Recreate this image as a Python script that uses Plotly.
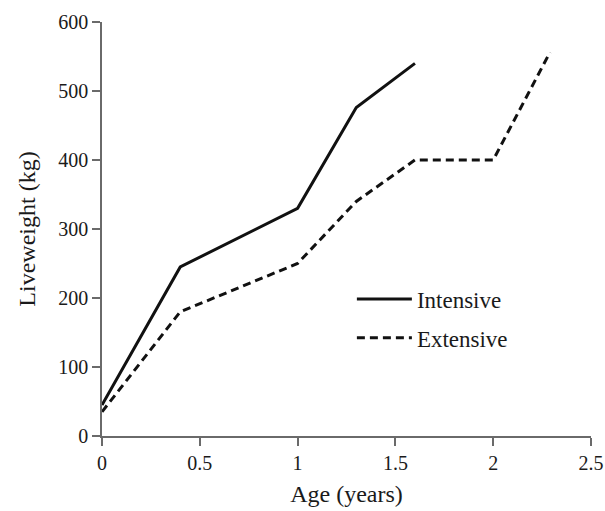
import plotly.graph_objects as go

intensive_age = [0, 0.4, 1.0, 1.3, 1.6]
intensive_wt = [45, 245, 330, 476, 540]
extensive_age = [0, 0.4, 1.0, 1.3, 1.6, 2.0, 2.29]
extensive_wt = [35, 180, 250, 340, 400, 400, 556]

x_ticks = [0, 0.5, 1, 1.5, 2, 2.5]
x_ticklabels = ["0", "0.5", "1", "1.5", "2", "2.5"]
y_ticks = [0, 100, 200, 300, 400, 500, 600]

font = "Liberation Serif"
ink = "#1a1a1a"
axis_col = "#6a6a6a"

fig = go.Figure()
fig.add_trace(go.Scatter(x=intensive_age, y=intensive_wt, mode="lines", name="Intensive",
                         line=dict(color="#111111", width=3), legend="legend"))
fig.add_trace(go.Scatter(x=extensive_age, y=extensive_wt, mode="lines", name="Extensive",
                         line=dict(color="#111111", width=3, dash="8px,5px"), legend="legend2"))

leg_common = dict(xanchor="left", yanchor="middle", itemwidth=55,
                  font=dict(family=font, size=23, color=ink),
                  bgcolor="rgba(0,0,0,0)")

fig.update_layout(
    width=605, height=511,
    margin=dict(l=102, r=14, t=22, b=75),
    paper_bgcolor="white", plot_bgcolor="white",
    font=dict(family=font, color=ink),
    showlegend=True,
    legend=dict(x=0.511, y=0.331, **leg_common),
    legend2=dict(x=0.511, y=0.237, **leg_common),
    xaxis=dict(range=[0, 2.5], tickvals=x_ticks, ticktext=x_ticklabels, automargin=False,
               showgrid=False, zeroline=False, showline=True, linecolor=axis_col, linewidth=1.5,
               ticks="outside", ticklen=8, tickcolor=axis_col, tickwidth=1.5,
               tickfont=dict(family=font, size=20, color=ink),
               title=dict(text="Age (years)", font=dict(family=font, size=24, color=ink), standoff=12)),
    yaxis=dict(range=[0, 600], tickvals=y_ticks, automargin=False,
               showgrid=False, zeroline=False, showline=True, linecolor=axis_col, linewidth=1.5,
               ticks="outside", ticklen=8, tickcolor=axis_col, tickwidth=1.5,
               tickfont=dict(family=font, size=20, color=ink),
               title=dict(text="Liveweight (kg)", font=dict(family=font, size=24, color=ink), standoff=16)),
)

fig.write_html("out.html", config={"displayModeBar": False},
               post_script="document.body.style.margin='0';")
